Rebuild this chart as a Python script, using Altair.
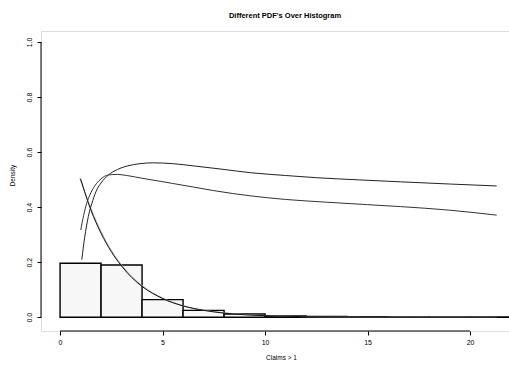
import altair as alt
import pandas as pd

# Histogram of claims (bin width 2), density scale
bin_start = [0, 2, 4, 6, 8, 10, 12, 14, 16, 18, 20]
bin_density = [0.196, 0.190, 0.064, 0.025, 0.012, 0.005, 0.003, 0.002, 0.001, 0.001, 0.001]

# Fitted density curves drawn over the histogram
exp_x = [1.0, 1.5, 2.0, 2.5, 3.0, 3.5, 4.0, 5.0, 6.0, 7.0, 8.0, 9.0, 10.0, 12.0, 14.0, 17.0, 21.3]
exp_y = [0.503, 0.390, 0.305, 0.238, 0.186, 0.144, 0.112, 0.068, 0.041, 0.025, 0.015, 0.009, 0.0056, 0.002, 0.0008, 0.0002, 0.0]

exp2_x = [0.97, 1.5, 2.0, 2.5, 3.0, 3.5, 4.0, 5.0, 6.0, 7.0, 8.0, 10.0, 12.0, 15.0, 21.3]
exp2_y = [0.505, 0.396, 0.311, 0.243, 0.190, 0.148, 0.115, 0.070, 0.042, 0.026, 0.016, 0.006, 0.002, 0.0005, 0.0]

upper_x = [1.06, 1.2, 1.38, 1.6, 1.79, 2.0, 2.36, 2.8, 3.25, 3.9, 4.5, 5.5, 6.5, 8.0, 9.3, 11.0, 12.5, 14.6, 16.6, 19.0, 21.3]
upper_y = [0.209, 0.290, 0.366, 0.425, 0.463, 0.488, 0.517, 0.537, 0.549, 0.558, 0.561, 0.558, 0.550, 0.537, 0.525, 0.515, 0.507, 0.499, 0.492, 0.484, 0.477]

lower_x = [1.01, 1.15, 1.3, 1.5, 1.79, 2.0, 2.36, 2.8, 3.25, 4.0, 4.88, 5.5, 6.5, 7.5, 9.3, 11.0, 13.0, 15.0, 16.6, 19.0, 21.3]
lower_y = [0.317, 0.370, 0.414, 0.452, 0.487, 0.503, 0.517, 0.519, 0.515, 0.505, 0.494, 0.486, 0.473, 0.460, 0.441, 0.428, 0.418, 0.409, 0.402, 0.389, 0.371]

x_ticks = [0, 5, 10, 15, 20]
y_ticks = [0.0, 0.2, 0.4, 0.6, 0.8, 1.0]

X_DOMAIN = [-0.93, 21.9]
Y_DOMAIN = [-0.05, 1.04]
FONT = "Liberation Sans"

hist = pd.DataFrame({
    "start": bin_start,
    "end": [b + 2 for b in bin_start],
    "density": bin_density,
})

curves = pd.concat([
    pd.DataFrame({"x": exp2_x, "y": exp2_y, "curve": "exp2", "order": range(len(exp2_x))}),
    pd.DataFrame({"x": exp_x, "y": exp_y, "curve": "exp", "order": range(len(exp_x))}),
    pd.DataFrame({"x": upper_x, "y": upper_y, "curve": "upper", "order": range(len(upper_x))}),
    pd.DataFrame({"x": lower_x, "y": lower_y, "curve": "lower", "order": range(len(lower_x))}),
])

x_scale = alt.Scale(domain=X_DOMAIN, nice=False, zero=False)
y_scale = alt.Scale(domain=Y_DOMAIN, nice=False, zero=False)

x_axis = alt.Axis(
    values=x_ticks, domain=False, grid=False, tickSize=4, tickColor="black",
    labelFont=FONT, labelFontSize=7, labelColor="black", labelPadding=3,
    title="Claims > 1", titleFont=FONT, titleFontSize=6.5, titleFontWeight="normal",
    titleColor="black", titleX=240, titleY=26, titleBaseline="middle",
)
y_axis = alt.Axis(
    values=y_ticks, format=".1f", domain=False, grid=False, tickSize=4, tickColor="black",
    labelFont=FONT, labelFontSize=7, labelColor="black", labelAngle=270,
    labelAlign="center", labelBaseline="bottom", labelPadding=5,
    title="Density", titleFont=FONT, titleFontSize=6.5, titleFontWeight="normal",
    titleColor="black", titleX=-29, titleY=144, titleBaseline="middle", titleAngle=270,
)

bars = alt.Chart(hist).mark_rect(
    fill="#f7f7f7", stroke="black", strokeWidth=1.4, clip=True
).encode(
    x=alt.X("start:Q", scale=x_scale, axis=x_axis),
    x2="end:Q",
    y=alt.Y("density:Q", scale=y_scale, axis=y_axis),
    y2=alt.datum(0),
)

lines = alt.Chart(curves).mark_line(
    clip=True, strokeWidth=1.0, interpolate="monotone"
).encode(
    x=alt.X("x:Q", scale=x_scale),
    y=alt.Y("y:Q", scale=y_scale),
    detail="curve:N",
    order="order:Q",
    color=alt.Color(
        "curve:N",
        scale=alt.Scale(domain=["exp2", "exp", "upper", "lower"],
                        range=["#a0a0a0", "#111111", "#222222", "#333333"]),
        legend=None,
    ),
)

# R-style axis lines that run only between the first and last tick
x_line = alt.Chart(pd.DataFrame({"a": [x_ticks[0]], "b": [x_ticks[-1]]})).mark_rule(
    color="black", strokeWidth=1
).encode(x=alt.X("a:Q", scale=x_scale), x2="b:Q", y=alt.datum(Y_DOMAIN[0]))

y_line = alt.Chart(pd.DataFrame({"a": [y_ticks[0]], "b": [y_ticks[-1]]})).mark_rule(
    color="black", strokeWidth=1
).encode(y=alt.Y("a:Q", scale=y_scale), y2="b:Q", x=alt.datum(X_DOMAIN[0]))

chart = alt.layer(bars, lines, x_line, y_line).properties(
    width=468,
    height=300,
    title=alt.TitleParams(
        "Different PDF's Over Histogram", font=FONT, fontSize=7.5, fontWeight="bold",
        color="black", anchor="middle", dx=10, offset=12,
    ),
    autosize=alt.AutoSizeParams(type="none"),
    padding={"left": 41, "top": 31, "right": 0, "bottom": 37},
).configure_view(stroke=None).configure(background="white")

chart.save("out.html", embed_options={"renderer": "svg", "actions": False})
